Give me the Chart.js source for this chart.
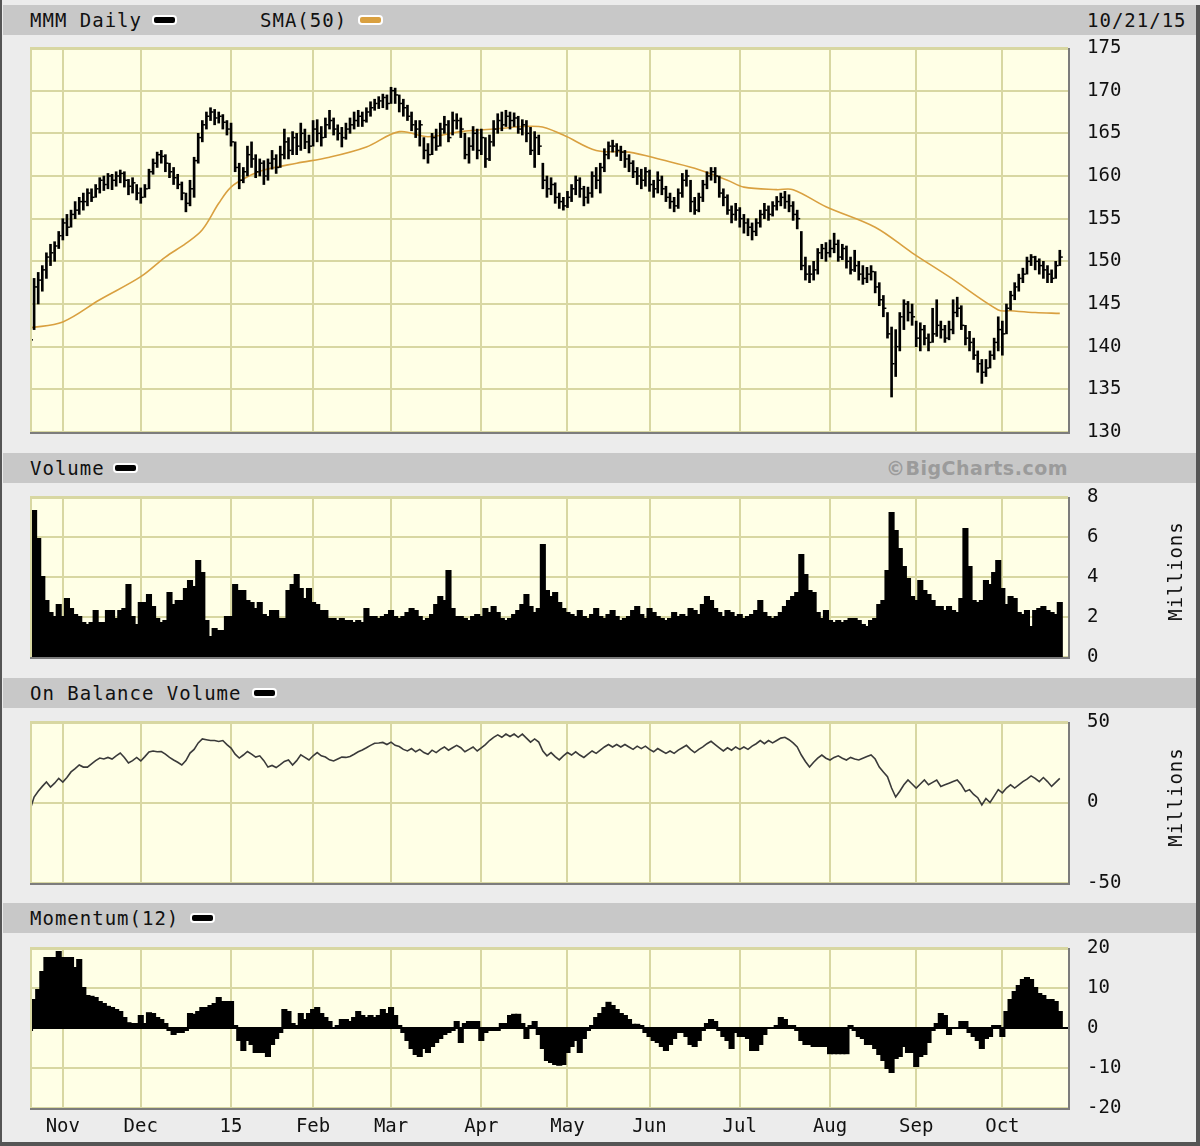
<!DOCTYPE html>
<html>
<head>
<meta charset="utf-8">
<title>MMM Daily</title>
<script src="https://cdn.jsdelivr.net/npm/chart.js@4.4.1/dist/chart.umd.min.js"></script>
<style>
  html, body { margin: 0; padding: 0; background: #ececec; }
  #page { position: relative; width: 1200px; height: 1146px; overflow: hidden; background: #ececec;
          font-family: 'DejaVu Sans Mono', monospace; color: #111; }
  .head { position: absolute; left: 3px; width: 1193px; height: 30px; background: #c8c8c8; }
  .txt { position: absolute; top: 0; font-size: 19px; line-height: 30px; letter-spacing: 1px; white-space: nowrap; }
  .sw { position: absolute; top: 10px; width: 21px; height: 6px; border: 2px solid #fff; border-radius: 4px; }
  .brand { position: absolute; top: 0; right: 128px; font-family: 'DejaVu Sans', sans-serif; font-weight: bold;
           font-size: 19px; line-height: 30px; letter-spacing: 0.5px; color: #9b9b9b; }
  .mil { position: absolute; left: 1120px; width: 110px; text-align: center; font-size: 19px; letter-spacing: 1px;
         line-height: 22px; transform: rotate(-90deg); }
  .edge { position: absolute; background: #555; z-index: 5; }
  canvas { position: absolute; left: 0; }
</style>
</head>
<body>
<div id="page">
  <div class="head" style="top:5px">
    <span class="txt" style="left:27px">MMM Daily</span>
    <span class="sw" style="left:149px; background:#000"></span>
    <span class="txt" style="left:257px">SMA(50)</span>
    <span class="sw" style="left:355px; background:#d9a040"></span>
    <span class="txt" style="left:1084px">10/21/15</span>
  </div>
  <canvas id="priceChart" width="1200" height="408" style="top:36px; width:1200px; height:408px"></canvas>

  <div class="head" style="top:453px">
    <span class="txt" style="left:27px">Volume</span>
    <span class="sw" style="left:110px; background:#000"></span>
    <span class="brand">&copy;BigCharts.com</span>
  </div>
  <canvas id="volChart" width="1200" height="184" style="top:485px; width:1200px; height:184px"></canvas>
  <div class="mil" style="top:560px">Millions</div>

  <div class="head" style="top:678px">
    <span class="txt" style="left:27px">On Balance Volume</span>
    <span class="sw" style="left:249px; background:#000"></span>
  </div>
  <canvas id="obvChart" width="1200" height="185" style="top:710px; width:1200px; height:185px"></canvas>
  <div class="mil" style="top:786px">Millions</div>

  <div class="head" style="top:903px">
    <span class="txt" style="left:27px">Momentum(12)</span>
    <span class="sw" style="left:187px; background:#000"></span>
  </div>
  <canvas id="momChart" width="1200" height="210" style="top:936px; width:1200px; height:210px"></canvas>

  <div class="edge" style="left:0; top:0; width:2px; height:1146px"></div>
  <div class="edge" style="left:1196px; top:5px; width:4px; height:1141px"></div>
  <div class="edge" style="left:0; top:1142px; width:1200px; height:4px"></div>
</div>

<script>
// trading days from 10/22/14 to 10/21/15, index 0 = first bar
const monthStart = [8, 27, 49, 69, 88, 110, 131, 151, 173, 195, 216, 237];
const monthLabels = ['Nov', 'Dec', '15', 'Feb', 'Mar', 'Apr', 'May', 'Jun', 'Jul', 'Aug', 'Sep', 'Oct'];

const priceHigh = [
  141.4, 148.0, 148.7, 149.5, 151.0, 152.0, 152.3, 153.5, 155.0, 155.5,
  156.0, 157.0, 157.5, 158.0, 158.5, 158.5, 159.0, 159.8, 160.0, 160.3,
  160.2, 160.5, 160.7, 160.5, 159.6, 159.8, 159.0, 158.6, 159.0, 160.8,
  162.0, 162.8, 163.0, 162.5, 161.5, 161.0, 160.2, 159.3, 158.0, 159.5,
  162.2, 165.0, 166.5, 167.5, 168.0, 167.8, 167.5, 167.2, 166.5, 166.2,
  164.0, 161.5, 161.0, 163.5, 164.0, 162.5, 162.0, 161.8, 162.0, 163.0,
  162.5, 163.5, 165.5, 164.5, 165.2, 165.0, 166.2, 165.5, 164.8, 166.5,
  166.6, 165.8, 166.8, 167.7, 166.8, 166.0, 165.7, 166.2, 166.8, 167.5,
  167.7, 167.5, 168.0, 168.7, 169.0, 169.3, 169.6, 169.5, 170.4, 170.3,
  169.5, 169.0, 168.3, 167.5, 166.5, 166.5, 164.5, 163.8, 165.0, 165.5,
  166.2, 167.0, 166.5, 167.5, 167.3, 166.8, 165.0, 164.5, 165.8, 165.5,
  165.5, 164.5, 164.8, 166.5, 167.3, 167.5, 167.7, 167.5, 167.4, 167.0,
  166.6, 166.5, 165.7, 165.2, 164.8, 161.5, 160.0, 159.8, 159.2, 158.0,
  157.5, 158.2, 159.0, 160.0, 159.8, 158.8, 158.7, 160.5, 161.0, 161.5,
  163.2, 164.0, 164.2, 163.8, 163.5, 163.0, 162.5, 161.8, 161.0, 160.8,
  161.0, 160.7, 159.5, 160.5, 160.0, 158.8, 158.0, 157.5, 158.5, 160.3,
  160.7, 159.5, 157.5, 158.0, 159.5, 160.5, 161.0, 161.0, 160.0, 158.5,
  157.8, 156.5, 156.8, 156.3, 155.5, 155.0, 154.5, 155.0, 156.0, 156.8,
  156.5, 157.0, 157.6, 158.0, 158.2, 157.8, 157.0, 156.0, 153.5, 150.5,
  149.5, 150.0, 151.5, 152.0, 152.2, 152.5, 153.3, 152.5, 152.0, 151.8,
  150.5, 151.3, 150.0, 149.5, 149.3, 149.5, 148.8, 147.5, 146.0, 144.0,
  142.3, 142.0, 144.0, 145.5, 145.3, 145.0, 143.0, 142.8, 142.5, 141.5,
  144.5, 145.5, 143.0, 142.5, 143.0, 145.5, 145.8, 144.8, 142.5, 141.8,
  141.0, 139.5, 138.5, 138.5, 139.5, 141.0, 143.5, 143.0, 145.0, 146.5,
  147.5, 148.5, 149.2, 150.5, 150.8, 150.6, 150.3, 150.0, 149.5, 149.0,
  150.0, 151.3
];
const priceLow = [
  138.8, 142.0, 145.0, 146.5, 148.0, 149.5, 150.0, 151.5, 152.5, 153.0,
  154.0, 155.0, 155.5, 156.0, 156.5, 157.0, 157.5, 158.0, 158.3, 158.5,
  158.4, 158.8, 159.2, 158.7, 157.8, 158.0, 157.2, 156.8, 157.5, 158.5,
  160.2, 161.0, 161.5, 160.5, 159.8, 159.0, 158.5, 157.2, 155.8, 156.5,
  157.5, 161.5, 164.0, 165.5, 166.5, 166.0, 166.2, 165.5, 164.8, 163.5,
  160.5, 158.5, 159.2, 160.0, 161.0, 159.8, 160.0, 159.0, 159.5, 160.8,
  160.3, 161.0, 162.0, 162.0, 162.5, 162.5, 163.0, 163.2, 162.7, 163.5,
  164.0, 163.5, 164.5, 165.5, 164.8, 164.2, 163.4, 164.3, 165.0, 165.5,
  165.8, 165.8, 166.3, 167.0, 167.7, 167.9, 168.0, 167.8, 168.5, 168.5,
  167.5, 167.0, 166.5, 165.3, 164.5, 163.5, 162.0, 161.5, 162.5, 163.0,
  163.5, 165.0, 164.0, 164.8, 165.5, 164.5, 162.0, 161.5, 163.0, 162.0,
  162.5, 161.0, 161.8, 163.5, 165.0, 165.3, 165.8, 165.5, 165.8, 165.0,
  164.8, 164.0, 162.5, 161.0, 162.5, 158.5, 157.5, 157.8, 156.8, 156.2,
  156.0, 156.3, 157.0, 157.8, 157.5, 156.5, 156.8, 157.5, 158.5, 158.0,
  160.5, 162.0, 162.8, 162.3, 161.8, 161.0, 160.5, 159.8, 159.0, 158.5,
  158.8, 158.2, 157.5, 158.0, 157.8, 157.0, 156.2, 155.8, 156.2, 157.5,
  158.8, 155.8, 155.5, 155.8, 157.0, 158.5, 159.5, 159.2, 157.5, 156.5,
  155.5, 154.5, 154.8, 154.0, 153.3, 153.0, 152.5, 153.0, 154.0, 155.0,
  154.8, 155.3, 156.0, 156.5, 156.2, 155.8, 154.8, 153.8, 149.0, 147.8,
  147.5, 147.8, 148.5, 150.3, 150.0, 150.5, 151.0, 150.0, 150.2, 149.2,
  148.5, 148.8, 147.8, 147.3, 147.5, 147.8, 146.3, 144.8, 143.5, 141.0,
  134.1, 136.5, 139.5, 142.0, 143.0, 142.5, 140.0, 139.5, 140.2, 139.5,
  140.5, 141.2, 141.0, 140.5, 140.8, 141.5, 143.5, 142.0, 140.2, 139.5,
  138.5, 137.0, 135.7, 136.5, 137.5, 138.5, 139.5, 139.0, 141.5, 144.3,
  145.5, 146.5, 147.5, 148.5, 149.5, 149.0, 148.5, 148.0, 147.5, 147.5,
  148.0, 149.5
];
const priceClose = [
  140.8, 147.0, 147.8, 149.0, 150.5, 151.0, 151.8, 153.0, 154.5, 154.0,
  155.5, 156.0, 157.0, 157.0, 158.0, 157.5, 158.5, 159.5, 159.0, 160.0,
  159.5, 160.0, 160.3, 159.5, 158.8, 159.2, 158.0, 157.5, 158.5, 160.5,
  161.5, 162.5, 162.3, 161.5, 160.5, 159.8, 159.0, 158.0, 156.8, 158.5,
  161.8, 164.5, 166.0, 167.0, 167.5, 166.8, 167.0, 166.3, 165.5, 164.0,
  161.0, 159.5, 160.5, 162.5, 162.0, 160.5, 161.5, 160.0, 161.5, 162.0,
  161.0, 162.5, 164.0, 163.0, 164.5, 163.5, 165.0, 164.0, 163.5, 165.5,
  165.0, 164.5, 166.0, 166.5, 165.5, 165.0, 164.5, 165.5, 166.0, 166.5,
  167.0, 166.5, 167.5, 168.0, 168.5, 168.8, 169.2, 168.5, 170.0, 169.5,
  168.5, 168.0, 167.0, 166.0, 165.5, 166.0, 163.0, 162.5, 164.5, 163.5,
  165.5, 166.0, 164.5, 166.5, 166.5, 165.5, 162.5, 163.5, 165.0, 163.0,
  164.5, 162.0, 164.0, 165.5, 166.5, 166.0, 167.0, 166.5, 166.8, 165.5,
  166.0, 165.0, 163.0, 164.5, 163.5, 159.5, 158.5, 159.0, 157.5, 157.0,
  156.5, 157.5, 158.5, 159.5, 158.5, 157.5, 158.0, 160.0, 159.5, 161.0,
  162.5, 163.5, 163.5, 163.0, 162.8, 162.0, 161.5, 160.5, 160.0, 159.5,
  160.5, 159.0, 158.5, 159.5, 158.5, 157.5, 157.0, 156.5, 158.0, 159.5,
  160.0, 157.0, 156.0, 157.5, 159.0, 160.0, 160.5, 160.0, 158.0, 157.5,
  156.0, 155.5, 156.0, 155.0, 154.5, 154.0, 153.5, 154.5, 155.5, 156.0,
  155.5, 156.5, 157.0, 157.5, 157.0, 156.5, 155.5, 155.0, 149.5, 148.5,
  148.5, 149.0, 151.0, 151.5, 151.0, 151.5, 152.0, 150.5, 151.5, 150.0,
  149.0, 149.5, 148.5, 148.0, 148.5, 148.8, 147.0, 145.5, 144.5, 141.5,
  138.0, 140.0, 143.5, 145.0, 144.0, 143.5, 141.0, 142.0, 141.0, 140.5,
  141.5, 142.5, 142.0, 141.0, 142.0, 144.0, 144.5, 142.5, 141.0, 140.5,
  139.0, 138.0, 137.0, 137.5, 139.0, 140.5, 142.0, 141.5, 144.5, 146.0,
  147.0, 148.0, 148.5, 150.0, 150.5, 150.0, 149.5, 149.0, 148.5, 148.0,
  149.5, 150.5
];

// 50-day moving average, read at sample days
const smaDays = [0, 8, 17, 27, 33, 38, 42, 46, 49, 53, 57, 65, 73, 82, 90, 97, 105, 113, 124, 130,
                 138, 146, 154, 162, 170, 174, 182, 186, 194, 206, 215, 224, 236, 239, 245, 251];
const smaValues = [142.2, 142.9, 145.5, 148.2, 150.5, 152.1, 153.7, 156.8, 158.7, 159.9, 160.7, 161.5,
                   162.2, 163.4, 165.2, 164.6, 165.2, 165.5, 165.8, 164.8, 163.0, 162.8, 161.9, 160.9,
                   159.5, 158.7, 158.4, 158.4, 156.4, 154.0, 151.0, 148.2, 144.3, 144.2, 144.0, 143.9];

// volume, millions
const volume = [
  4.3, 7.3, 5.9, 4.0, 2.8, 2.2, 2.0, 2.6, 2.0, 2.9,
  2.4, 2.1, 2.0, 1.7, 1.6, 1.7, 2.3, 1.7, 1.7, 2.3,
  2.3, 1.9, 2.3, 2.4, 3.6, 2.0, 1.6, 2.7, 2.7, 3.1,
  2.5, 1.9, 1.7, 1.8, 3.2, 2.6, 2.8, 2.8, 3.4, 3.8,
  3.5, 4.8, 4.2, 1.8, 1.0, 1.4, 1.3, 1.3, 2.0, 2.0,
  3.6, 3.3, 3.3, 2.8, 2.7, 2.4, 2.7, 2.1, 2.0, 2.3,
  2.3, 1.9, 1.9, 3.3, 3.6, 4.1, 3.4, 2.9, 3.4, 2.7,
  2.6, 2.3, 2.3, 1.9, 1.9, 1.8, 1.9, 1.8, 1.8, 1.7,
  1.8, 1.7, 2.4, 2.0, 2.0, 1.9, 2.0, 2.1, 2.3, 2.0,
  1.9, 2.0, 2.2, 2.4, 2.3, 2.0, 1.8, 1.9, 2.1, 2.6,
  3.0, 2.8, 4.3, 2.4, 2.0, 2.0, 1.9, 1.8, 2.0, 2.1,
  2.0, 2.4, 2.2, 2.5, 2.2, 1.9, 1.8, 1.9, 2.1, 2.3,
  2.6, 3.1, 2.5, 2.2, 2.4, 5.6, 3.3, 3.0, 3.2, 2.7,
  2.4, 2.2, 2.1, 2.0, 2.3, 2.0, 1.9, 2.1, 2.4, 2.0,
  1.9, 2.1, 2.3, 2.0, 1.8, 1.9, 2.0, 2.3, 2.5, 2.1,
  1.9, 2.4, 2.2, 2.0, 1.9, 1.8, 1.9, 2.2, 2.0, 2.1,
  2.0, 2.4, 2.3, 2.1, 2.6, 3.0, 2.8, 2.4, 2.2, 2.0,
  2.3, 2.2, 2.0, 2.1, 1.9, 2.0, 2.1, 2.3, 2.8, 2.2,
  2.0, 1.9, 2.0, 2.2, 2.5, 2.8, 3.0, 3.2, 5.1, 4.1,
  3.3, 3.2, 2.2, 1.9, 2.3, 1.8, 1.7, 1.8, 1.7, 1.8,
  1.9, 1.9, 1.8, 1.6, 1.5, 1.8, 1.9, 2.6, 2.8, 4.3,
  7.2, 6.3, 5.4, 4.5, 3.9, 3.0, 2.8, 3.8, 3.3, 3.1,
  2.8, 2.5, 2.5, 2.3, 2.5, 2.3, 2.2, 2.9, 6.4, 4.5,
  2.8, 2.7, 2.8, 3.8, 3.6, 4.2, 4.8, 3.4, 2.6, 3.0,
  2.9, 2.2, 2.1, 2.3, 1.5, 2.3, 2.4, 2.5, 2.3, 2.2,
  2.1, 2.7
];

// on balance volume, millions
const obv = [
  -4.7, 3.4, 7, 10, 12.7, 9.6, 12, 15, 12.7, 15.5,
  19, 21, 23.3, 22, 22, 24, 26, 27.6, 27, 28,
  27, 29, 30.7, 28, 24.5, 26, 28, 25.8, 28.5, 31.4,
  32, 31.5, 31.7, 30, 28, 26.4, 25, 23.3, 26, 30.7,
  33, 37, 39.5, 39, 38.5, 38.5, 37.9, 38.5, 36, 33.8,
  30, 27.6, 29.5, 31.7, 30, 28.2, 29, 26, 22, 23,
  21.7, 23.5, 25.5, 26.4, 23.3, 26, 29.6, 28, 26.4, 29,
  31, 29, 28.2, 26.5, 25.8, 27, 28.2, 28, 28.6, 30,
  31.5, 32.6, 34, 35.5, 36.8, 37, 37.3, 36, 37.5, 35.5,
  34.8, 33, 32, 33.5, 31.5, 33, 31, 30, 32.5, 31,
  33, 34.5, 32.5, 34, 35.5, 34, 31.5, 33, 34.5, 32,
  34, 36, 38.5, 40.5, 42, 40.5, 42.5, 41, 42.5, 40.5,
  42.5, 40, 37.5, 39.5, 37.5, 32, 29, 31, 28.5, 26.5,
  29, 31, 29.5, 31.5, 29.5, 28, 30, 32, 30.5, 32.5,
  34.5, 36, 34.5, 36, 34.5, 36, 34.5, 33, 35, 33.5,
  35, 33, 31.5, 33.5, 32, 30.5, 32, 30.5, 32.5, 34,
  35.5, 33, 31, 33, 34.5, 36.5, 38, 36, 34, 32,
  34, 32.5, 34.5, 33, 34.5, 33, 35, 36.5, 38.5, 36.5,
  38.5, 37, 38.5, 40, 40.5, 39, 37, 34.5, 29.5, 25.5,
  22, 25, 27.5, 29.5, 27.5, 26.4, 28, 29, 27.5, 26.4,
  28, 27, 26.4, 27.5, 28.5, 29.5, 27, 22, 19, 16,
  9, 3.4, 7, 11, 14, 11.5, 9, 11.5, 14, 11,
  12.5, 14, 10, 11, 12, 13, 14, 11, 6.8, 8,
  5, 3, -1.5, 2.5, 0, 4, 8, 6, 9, 11,
  9, 11, 13, 14.5, 16.5, 15, 13, 15.5, 13, 10,
  12.5, 15
];

// momentum(12)
const momentum = [
  -0.5, 7, 9.5, 14, 17.5, 17.5, 17.5, 19, 17.5, 17.5,
  17.5, 15, 17, 10, 8, 7.8, 7.5, 6.5, 6, 5.3,
  5, 4.5, 4, 2.5, 1.2, 1, 1, 3, 1, 3.7,
  3.5, 2.5, 2, 1, -0.5, -1.5, -1, -1, -0.5, 3.5,
  3.3, 4, 5, 5, 5.5, 6, 7.5, 6.5, 6.5, 6.5,
  0.5, -3, -5.5, -3, -4, -6, -6, -6, -7, -4,
  -2.5, -1, 4.5, 4, 1, 0.5, 3.5, 2, 3.5, 4.5,
  5, 3.5, 2.5, 1.5, 0, 0.5, 2, 2, 1.5, 2.5,
  4, 3, 2.5, 3, 2.5, 3, 4.5, 3.5, 5, 3,
  0.5, -1, -3, -5, -6.5, -7, -5, -6, -4.5, -3.5,
  -2.5, -1.5, -1, -0.5, 1.5, -3.5, 1, 1.5, 1.5, 1.5,
  -3, -1, -0.5, -0.5, -0.5, 1, 1, 3, 3.3, 3.3,
  1, -2.5, 0.5, 1.5, -1.5, -5, -8, -8.5, -9, -9.2,
  -9, -6, -4.5, -3, -6, -2.5, -0.5, 0.5, 2.5, 3.5,
  5, 6.3, 5.5, 4.5, 3.5, 3, 2, 0.8, 0.8, 0.5,
  -1, -2, -3, -3.5, -4.5, -5.5, -4, -2.5, -1, -1,
  -2, -4, -4.5, -3, -0.5, 1, 2, 1.5, -0.5, -2,
  -3, -5, -1, -2, -2, -2.5, -5.5, -5.5, -4, -1.5,
  0, 0, 0.5, 2.5, 2, 0.5, 0.5, -0.5, -3, -4,
  -4, -4.5, -4.5, -4.5, -4.5, -6.3, -6.3, -6.3, -6.3, -6.3,
  0.5, -0.5, -2, -2.5, -4, -4, -5, -6.5, -8, -10,
  -11, -7.5, -7, -4.5, -6, -6, -9.5, -7, -6.5, -3.5,
  -0.5, 1, 3.5, 3, -1.5, 0, 0, 1.5, 1.5, -1,
  -2, -3, -5, -2.5, -2, 0.5, 0.5, -2, 4, 7,
  9, 10.5, 12, 12.5, 12, 10, 8.5, 8, 7, 7,
  6.5, 4
];

const GRID = '#d8d7a2';
const PLOT_BG = '#ffffe6';
const SMA_COLOR = '#d9a040';
const TICK_FONT = { family: "'DejaVu Sans Mono', monospace", size: 19 };

// yellow plot background + the olive / shadow frame round each panel
const plotFrame = {
    id: 'plotFrame',
    beforeDraw(chart) {
        const a = chart.chartArea, c = chart.ctx;
        c.save();
        c.fillStyle = PLOT_BG;
        c.fillRect(a.left, a.top, a.right - a.left, a.bottom - a.top);
        c.restore();
    },
    afterDraw(chart) {
        const a = chart.chartArea, c = chart.ctx;
        c.save();
        c.lineWidth = 2;
        c.strokeStyle = GRID;
        c.beginPath();
        c.moveTo(a.left + 1, a.bottom);
        c.lineTo(a.left + 1, a.top + 1);
        c.lineTo(a.right, a.top + 1);
        c.stroke();
        c.strokeStyle = '#7c7c7c';
        c.beginPath();
        c.moveTo(a.left, a.bottom + 1);
        c.lineTo(a.right + 1, a.bottom + 1);
        c.lineTo(a.right + 1, a.top);
        c.stroke();
        c.restore();
    }
};

function makePanel(canvasId, yCfg, showX, datasets) {
    return new Chart(document.getElementById(canvasId), {
        type: 'bar',
        data: { datasets },
        options: {
            responsive: false,
            animation: false,
            events: [],
            layout: { autoPadding: false, padding: { left: 30, right: 0, top: 12, bottom: showX ? 0 : 12 } },
            plugins: { legend: { display: false }, tooltip: { enabled: false } },
            scales: {
                x: {
                    type: 'linear', min: 0, max: 253, offset: false,
                    afterBuildTicks: ax => { ax.ticks = monthStart.map(v => ({ value: v })); },
                    afterFit: ax => { ax.height = showX ? 38 : 0; },
                    grid: { color: GRID, lineWidth: 2, drawTicks: false, offset: false },
                    border: { display: false },
                    ticks: {
                        display: showX, autoSkip: false, maxRotation: 0, padding: 8,
                        color: '#111', font: TICK_FONT,
                        callback: v => monthLabels[monthStart.indexOf(v)]
                    }
                },
                y: {
                    position: 'right', min: yCfg.min, max: yCfg.max,
                    afterFit: ax => { ax.width = 132; },
                    // label gap made by an invisible tick mark, so the gap does not pad the plot top
                    ticks: { stepSize: yCfg.step, padding: 0, color: '#111', font: TICK_FONT },
                    grid: {
                        color: c => (yCfg.zeroBlack && c.tick && c.tick.value === 0) ? '#000' : GRID,
                        lineWidth: 2, drawTicks: true, tickLength: 19, tickColor: 'rgba(0,0,0,0)'
                    },
                    border: { display: false }
                }
            }
        },
        plugins: [plotFrame]
    });
}

const days = priceClose.map((_, i) => i);

// --- PRICE ---
makePanel('priceChart', { min: 130, max: 175, step: 5 }, false, [
    {
        type: 'line', label: 'SMA(50)', order: 2,
        data: smaDays.map((d, k) => ({ x: d, y: smaValues[k] })),
        borderColor: SMA_COLOR, borderWidth: 1.6, pointRadius: 0, tension: 0.35
    },
    {
        type: 'bar', label: 'MMM Daily', order: 1,
        data: days.map(i => ({ x: i, y: [priceLow[i], priceHigh[i]] })),
        backgroundColor: '#000', barThickness: 2
    },
    {
        type: 'line', label: 'Close', order: 0, showLine: false,
        data: days.map(i => ({ x: i, y: priceClose[i] })),
        pointStyle: 'dash', pointRadius: 3, pointBorderWidth: 1.5, pointBorderColor: '#000'
    }
]);

// --- VOLUME ---
makePanel('volChart', { min: 0, max: 8, step: 2 }, false, [
    {
        label: 'Volume',
        data: days.map(i => ({ x: i, y: volume[i] })),
        backgroundColor: '#000', barPercentage: 1, categoryPercentage: 1, inflateAmount: 1
    }
]);

// --- ON BALANCE VOLUME ---
makePanel('obvChart', { min: -50, max: 50, step: 50 }, false, [
    {
        type: 'line', label: 'On Balance Volume',
        data: days.map(i => ({ x: i, y: obv[i] })),
        borderColor: '#3a3a3a', borderWidth: 1.6, pointRadius: 0, tension: 0
    }
]);

// --- MOMENTUM ---
makePanel('momChart', { min: -20, max: 20, step: 10, zeroBlack: true }, true, [
    {
        label: 'Momentum(12)',
        data: days.map(i => ({ x: i, y: momentum[i] })),
        backgroundColor: '#000', barPercentage: 1, categoryPercentage: 1, inflateAmount: 1
    }
]);
</script>
</body>
</html>
